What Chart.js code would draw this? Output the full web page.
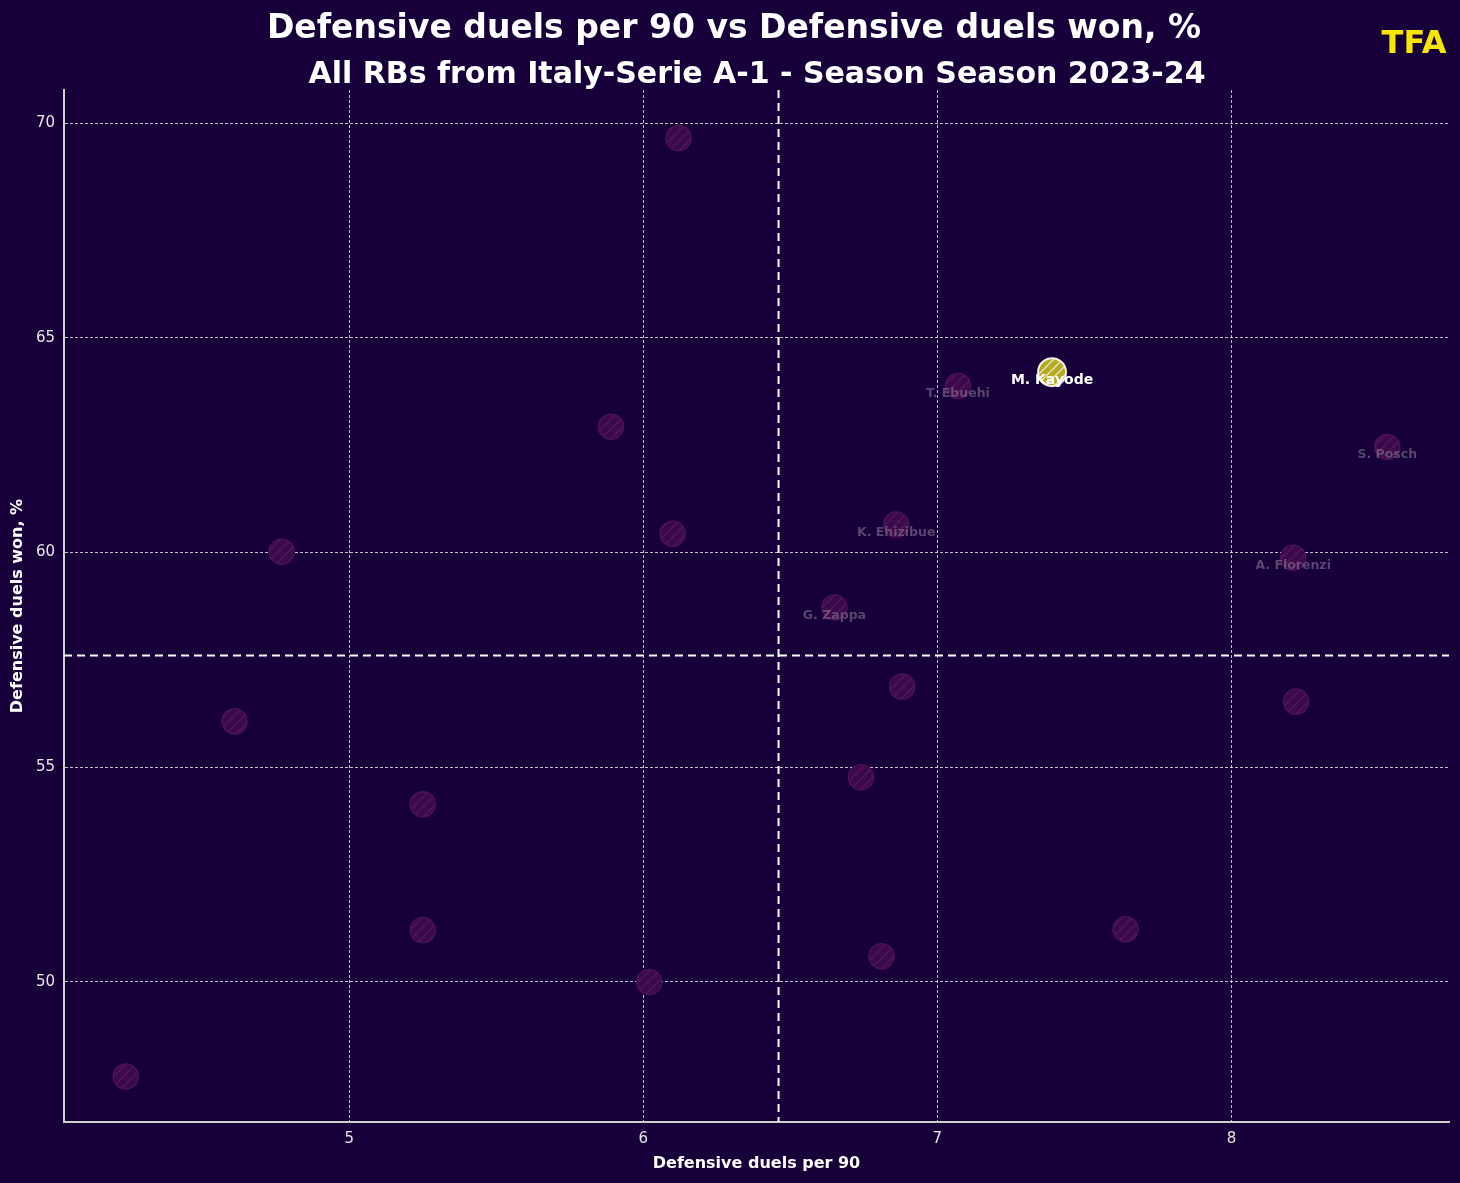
<!DOCTYPE html>
<html>
<head>
<meta charset="utf-8">
<script src="https://cdn.jsdelivr.net/npm/chart.js@4.4.1/dist/chart.umd.min.js"></script>
<style>
  html, body { margin: 0; padding: 0; background: #17003a; overflow: hidden; }
  #wrap { width: 1460px; height: 1183px; position: relative; }
  canvas { display: block; }
</style>
</head>
<body>
<div id="wrap"><canvas id="scatter"></canvas></div>
<script>
const players = ['', '', '', '', '', '', '', '', '', 'G. Zappa', '', '', 'K. Ehizibue', '', 'T. Ebuehi', 'M. Kayode', '', 'A. Florenzi', '', 'S. Posch'];
const duelsPer90 = [4.24, 4.61, 4.77, 5.25, 5.25, 5.89, 6.02, 6.10, 6.12, 6.65, 6.74, 6.81, 6.86, 6.88, 7.07, 7.39, 7.64, 8.21, 8.22, 8.53];
const duelsWon = [47.8, 56.07, 60.02, 54.14, 51.21, 62.93, 50.0, 60.44, 69.65, 58.72, 54.77, 50.6, 60.65, 56.88, 63.88, 64.2, 51.23, 59.88, 56.53, 62.46];
const highlight = 'M. Kayode';
const meanX = 6.46;
const meanY = 57.6;

function hatch(bg, line, size) {
    const c = document.createElement('canvas');
    c.width = size; c.height = size;
    const g = c.getContext('2d');
    g.fillStyle = bg;
    g.fillRect(0, 0, size, size);
    g.strokeStyle = line;
    g.lineWidth = 1.4;
    g.beginPath();
    g.moveTo(0, size); g.lineTo(size, 0);
    g.moveTo(-2, 2); g.lineTo(2, -2);
    g.moveTo(size - 2, size + 2); g.lineTo(size + 2, size - 2);
    g.stroke();
    return g.createPattern(c, 'repeat');
}

const ctx = document.getElementById('scatter').getContext('2d');
const otherFill = hatch('#3a0a4a', '#54165a', 10);
const hiFill = hatch('#b5ab22', 'rgba(255,255,255,0.7)', 9);

const others = [], hi = [];
duelsPer90.forEach((x, i) => {
    const p = { x: x, y: duelsWon[i], name: players[i] };
    if (players[i] === highlight) hi.push(p); else others.push(p);
});

const overlay = {
    id: 'overlay',
    beforeDatasetsDraw(chart) {
        const c = chart.ctx, a = chart.chartArea;
        const sx = chart.scales.x, sy = chart.scales.y;
        c.save();
        c.strokeStyle = '#ffffff';
        c.lineWidth = 2;
        c.setLineDash([8, 5]);
        const px = sx.getPixelForValue(meanX);
        c.beginPath(); c.moveTo(px, a.top); c.lineTo(px, a.bottom); c.stroke();
        const py = sy.getPixelForValue(meanY);
        c.beginPath(); c.moveTo(a.left, py); c.lineTo(a.right, py); c.stroke();
        c.restore();
    },
    afterDatasetsDraw(chart) {
        const c = chart.ctx;
        const sx = chart.scales.x, sy = chart.scales.y;
        c.save();
        c.textAlign = 'center';
        c.textBaseline = 'middle';
        duelsPer90.forEach((x, i) => {
            if (!players[i]) return;
            const px = sx.getPixelForValue(x), py = sy.getPixelForValue(duelsWon[i]);
            if (players[i] === highlight) {
                c.font = 'bold 14px "DejaVu Sans"';
                c.fillStyle = '#ffffff';
            } else {
                c.font = 'bold 12.5px "DejaVu Sans"';
                c.fillStyle = 'rgba(150,140,165,0.5)';
            }
            c.fillText(players[i], px, py + 8);
        });
        c.restore();
    },
    afterDraw(chart) {
        const c = chart.ctx;
        c.save();
        c.fillStyle = '#ffffff';
        c.textAlign = 'center';
        c.textBaseline = 'alphabetic';
        c.font = 'bold 33px "DejaVu Sans"';
        c.fillText('Defensive duels per 90 vs Defensive duels won, %', 734, 38);
        c.font = 'bold 30px "DejaVu Sans"';
        c.fillText('All RBs from Italy-Serie A-1 - Season Season 2023-24', 757, 83);
        c.fillStyle = '#f7e600';
        c.font = 'bold 32px "DejaVu Sans"';
        c.fillText('TFA', 1414, 53);
        c.restore();
    }
};

new Chart(ctx, {
    type: 'scatter',
    data: {
        datasets: [{
            data: others,
            backgroundColor: otherFill,
            borderColor: '#4c1254',
            borderWidth: 1.5,
            pointRadius: 12.5,
            pointHoverRadius: 12.5
        }, {
            data: hi,
            backgroundColor: hiFill,
            borderColor: 'rgba(255,255,255,0.9)',
            borderWidth: 2,
            pointRadius: 14,
            pointHoverRadius: 14
        }]
    },
    options: {
        responsive: true,
        maintainAspectRatio: false,
        animation: false,
        layout: { autoPadding: false, padding: { top: 90, right: 11, left: 0, bottom: 0 } },
        plugins: {
            legend: { display: false },
            tooltip: { enabled: false }
        },
        scales: {
            x: {
                type: 'linear',
                min: 4.03,
                max: 8.74,
                afterFit: s => { s.height = 61; s.paddingLeft = 0; s.paddingRight = 0; },
                border: { color: '#d0d0d0', width: 2, dash: [3, 2] },
                grid: {
                    color: 'rgba(255,255,255,0.75)',
                    lineWidth: 1,
                    tickColor: '#000000',
                    tickLength: 5
                },
                ticks: {
                    stepSize: 1,
                    includeBounds: false,
                    color: '#e6e6e6',
                    font: { family: 'DejaVu Sans', size: 15 },
                    padding: 3
                },
                title: {
                    display: true,
                    text: 'Defensive duels per 90',
                    color: '#ffffff',
                    font: { family: 'DejaVu Sans', size: 16, weight: 'bold' },
                    padding: { top: 0, bottom: 10 }
                }
            },
            y: {
                type: 'linear',
                min: 46.74,
                max: 70.77,
                afterFit: s => { s.width = 64; s.paddingTop = 0; s.paddingBottom = 0; },
                border: { color: '#d0d0d0', width: 2, dash: [3, 2] },
                grid: {
                    color: 'rgba(255,255,255,0.75)',
                    lineWidth: 1,
                    tickColor: '#000000',
                    tickLength: 5
                },
                ticks: {
                    stepSize: 5,
                    includeBounds: false,
                    color: '#e6e6e6',
                    font: { family: 'DejaVu Sans', size: 15 },
                    padding: 4
                },
                title: {
                    display: true,
                    text: 'Defensive duels won, %',
                    color: '#ffffff',
                    font: { family: 'DejaVu Sans', size: 16, weight: 'bold' },
                    padding: { top: 8, bottom: 0 }
                }
            }
        }
    },
    plugins: [overlay]
});
</script>
</body>
</html>
